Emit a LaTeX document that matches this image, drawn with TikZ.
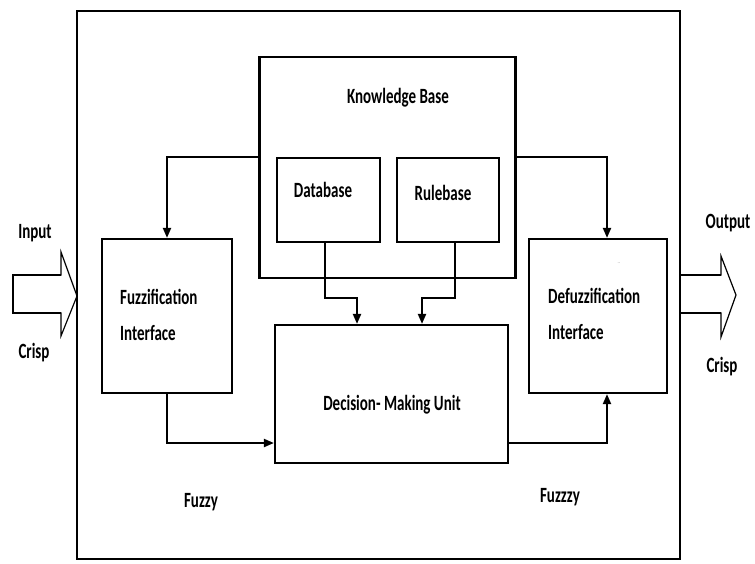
\documentclass[tikz,border=0pt]{standalone}
\usepackage{fontspec}
\usepackage{graphicx}
\setmainfont{Carlito}
\usetikzlibrary{arrows.meta}
\newcommand{\dtxt}[1]{\scalebox{1}[1.45]{\bfseries #1}}
\tikzset{
  blk/.style={draw=black, line width=2.2pt, fill=none, inner sep=0pt, rectangle},
  lbl/.style={inner sep=0pt, font=\fontsize{15}{18}\selectfont},
  conn/.style={draw=black, line width=2pt, -{Triangle[length=10pt,width=8pt]}},
  bigarrow/.style={draw=black, line width=1.2pt, line join=miter},
}
\begin{document}
\begin{tikzpicture}[x=1pt,y=-1pt]
\useasboundingbox (0,0) rectangle (755,563);
% outer frame
\node[blk, line width=1.8pt, minimum width=603pt, minimum height=548pt] (outer) at (378.5,285) {};
% knowledge base
\node[blk, minimum width=256pt, minimum height=221pt] (kb) at (387.5,167.5) {};
\node[blk, minimum width=103pt, minimum height=84pt] (db) at (328.5,200) {};
\node[blk, minimum width=102pt, minimum height=84pt] (rb) at (448,200) {};
% side interfaces
\node[blk, minimum width=130pt, minimum height=154pt] (fz) at (167,316) {};
\node[blk, minimum width=138pt, minimum height=154pt] (dfz) at (598,316) {};
% decision unit
\node[blk, minimum width=233pt, minimum height=138pt] (dm) at (391.5,394) {};
% texts
\node[lbl] (tkb) at (398,98) {\dtxt{Knowledge Base}};
\node[lbl] (tdb) at (323,190) {\dtxt{Database}};
\node[lbl] (trb) at (443,193) {\dtxt{Rulebase}};
\node[lbl, anchor=west] (tfz1) at (120,297) {\dtxt{Fuzzification}};
\node[lbl, anchor=west] (tfz2) at (120,333) {\dtxt{Interface}};
\node[lbl, anchor=west] (tdf1) at (548,296) {\dtxt{Defuzzification}};
\node[lbl, anchor=west] (tdf2) at (548,332) {\dtxt{Interface}};
\node[lbl] (tdm) at (392,405) {\dtxt{Decision- Making Unit}};
\node[lbl] (tfuz1) at (201,502) {\dtxt{Fuzzy}};
\node[lbl] (tfuz2) at (560,497) {\dtxt{Fuzzzy}};
\node[lbl] (tin) at (35,233) {\dtxt{Input}};
\node[lbl] (tcin) at (34,353) {\dtxt{Crisp}};
\node[lbl] (tout) at (728,223) {\dtxt{Output}};
\node[lbl] (tcout) at (722,367) {\dtxt{Crisp}};
\node[inner sep=0pt, font=\fontsize{5}{6}\selectfont, text=gray] (dots) at (619,263) {..};
% connectors
\draw[conn] (kb.west |- db.north) -| (fz.north);
\draw[conn] (kb.east |- rb.north) -| ([xshift=9pt]dfz.north);
\draw[conn] ([xshift=-3.5pt]db.south) -- ++(0,55) -| ([xshift=-34.5pt]dm.north);
\draw[conn] ([xshift=7pt]rb.south) -- ++(0,55) -| ([xshift=30.5pt]dm.north);
\draw[conn] (fz.south) |- ([yshift=-49pt]dm.west);
\draw[conn] ([yshift=-49pt]dm.east) -| ([xshift=9pt]dfz.south);
% big input/output arrows
\coordinate (inTip) at (77,296);
\coordinate (outTip) at (736,295);
\draw[bigarrow] (inTip) -- (61,252) -- (61,275) -- (13,275) -- (13,313) -- (61,313) -- (61,336) -- cycle;
\draw[line width=2.6pt] (13,275) -- (61,275);
\draw[line width=2.2pt] (13,313) -- (61,313);
\draw[line width=2.2pt] (13,274) -- (13,314);
\draw[bigarrow] (outer.east |- 0,275) -- (721,275) -- (721,256) -- (outTip) -- (721,337) -- (721,313) -- (outer.east |- 0,313);
\draw[line width=2.6pt] (outer.east |- 0,275) -- (721,275);
\draw[line width=2.2pt] (outer.east |- 0,313) -- (721,313);
\end{tikzpicture}
\end{document}
